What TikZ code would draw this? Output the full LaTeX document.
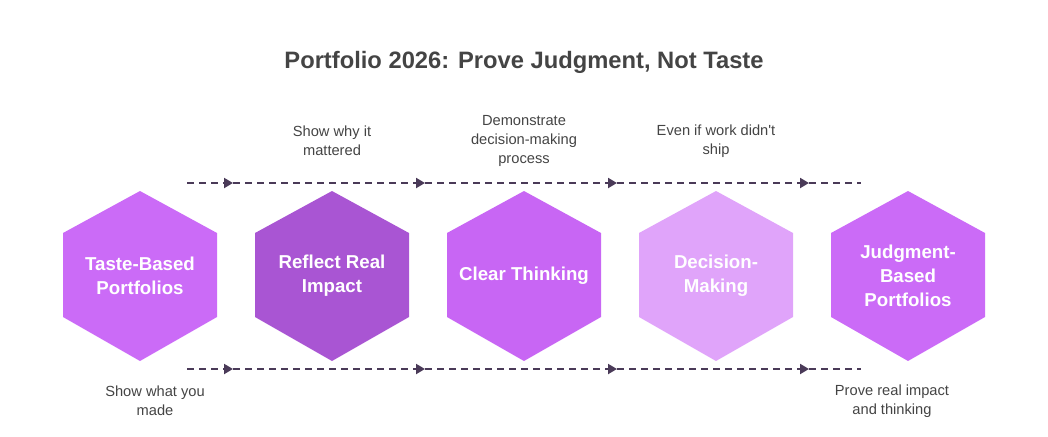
\documentclass[tikz,border=0pt]{standalone}
\usepackage{fontspec}
\setmainfont{Liberation Sans}
\usetikzlibrary{arrows.meta}
\definecolor{hexA}{HTML}{CB6BF7}
\definecolor{hexB}{HTML}{A955D3}
\definecolor{hexC}{HTML}{C866F4}
\definecolor{hexD}{HTML}{E0A4FA}
\definecolor{flowcol}{HTML}{4A3A58}
\definecolor{inkgray}{HTML}{444444}
\tikzset{
  hextext/.style={text=white, font=\fontsize{14}{18}\selectfont\bfseries, align=center},
  note/.style={text=inkgray, font=\fontsize{11}{14.25}\selectfont, align=center},
  flow/.style={flowcol, line width=1.5pt, dash pattern=on 5.25pt off 3.75pt,
      -{Triangle[length=6.75pt, width=7.5pt]}},
  flowend/.style={flowcol, line width=1.5pt, dash pattern=on 5.25pt off 3.75pt},
}

\begin{document}
\begin{tikzpicture}[x=0.75pt, y=-0.75pt]
  \useasboundingbox (0,0) rectangle (1048,436);
  \node[text=inkgray, font=\fontsize{17.8}{21}\selectfont\bfseries] (title) at (524,62) {Portfolio 2026: Prove Judgment, Not Taste};

  % hexagons
  \fill[hexA] (140,191) -- ++(77,42) -- ++(0,84) -- ++(-77,44) -- ++(-77,-44) -- ++(0,-84) -- cycle;
  \fill[hexB] (332,191) -- ++(77,42) -- ++(0,84) -- ++(-77,44) -- ++(-77,-44) -- ++(0,-84) -- cycle;
  \fill[hexC] (524,191) -- ++(77,42) -- ++(0,84) -- ++(-77,44) -- ++(-77,-44) -- ++(0,-84) -- cycle;
  \fill[hexD] (716,191) -- ++(77,42) -- ++(0,84) -- ++(-77,44) -- ++(-77,-44) -- ++(0,-84) -- cycle;
  \fill[hexA] (908,191) -- ++(77,42) -- ++(0,84) -- ++(-77,44) -- ++(-77,-44) -- ++(0,-84) -- cycle;

  \node[hextext] (taste) at (140,276) {Taste-Based\\Portfolios};
  \node[hextext] (impact) at (332,276) {Reflect Real\\Impact};
  \node[hextext] (clear) at (524,276) {Clear Thinking};
  \node[hextext] (decide) at (716,276) {Decision-\\Making};
  \node[hextext] (judge) at (908,276) {Judgment-\\Based\\Portfolios};

  % dashed tracks
  \coordinate (ta) at (187,183);
  \coordinate (tb) at (233,183);
  \coordinate (tc) at (425,183);
  \coordinate (td) at (617,183);
  \coordinate (te) at (809,183);
  \coordinate (tf) at (861,183);
  \coordinate (ba) at (187,369);
  \coordinate (bb) at (233,369);
  \coordinate (bc) at (425,369);
  \coordinate (bd) at (617,369);
  \coordinate (be) at (809,369);
  \coordinate (bf) at (861,369);
  \draw[flow] (ta) -- (tb);
  \draw[flow] (tb) -- (tc);
  \draw[flow] (tc) -- (td);
  \draw[flow] (td) -- (te);
  \draw[flowend] (te) -- (tf);
  \draw[flow] (ba) -- (bb);
  \draw[flow] (bb) -- (bc);
  \draw[flow] (bc) -- (bd);
  \draw[flow] (bd) -- (be);
  \draw[flowend] (be) -- (bf);

  % notes
  \node[note] (why) at (332,141) {Show why it\\mattered};
  \node[note] (demo) at (524,141) {Demonstrate\\decision-making\\process};
  \node[note] (ship) at (716,141) {Even if work didn\textquotesingle t\\ship};
  \node[note] (made) at (155,401) {Show what you\\made};
  \node[note] (prove) at (892,401) {Prove real impact\\and thinking};
\end{tikzpicture}
\end{document}
